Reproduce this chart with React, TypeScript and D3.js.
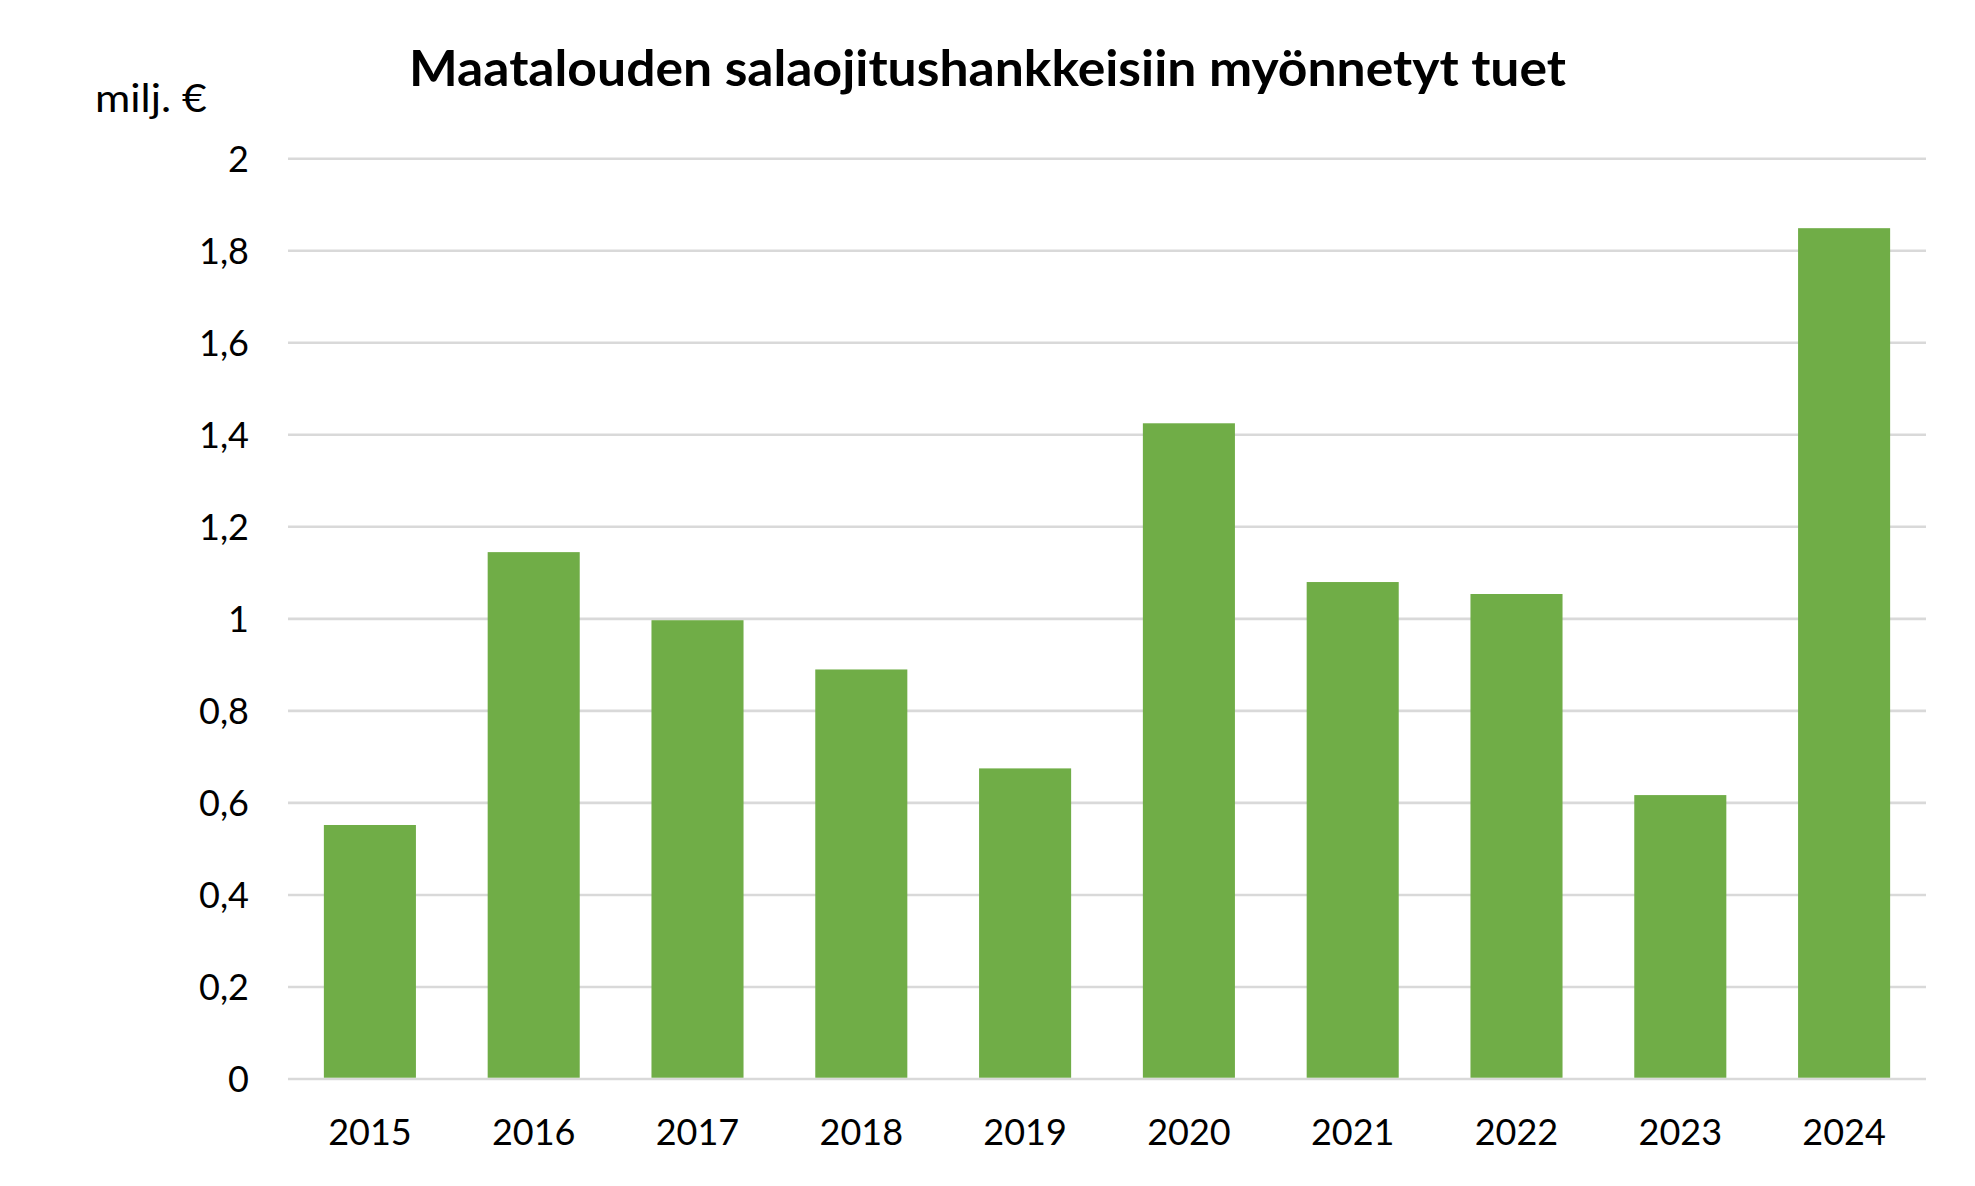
import React from "react";
import * as d3 from "d3";

const years = ["2015", "2016", "2017", "2018", "2019", "2020", "2021", "2022", "2023", "2024"];
const values = [0.552, 1.145, 0.997, 0.89, 0.675, 1.425, 1.08, 1.054, 0.617, 1.849];
const yTicks = [0, 0.2, 0.4, 0.6, 0.8, 1, 1.2, 1.4, 1.6, 1.8, 2];
const title = "Maatalouden salaojitushankkeisiin myönnetyt tuet";
const unitLabel = "milj. €";

const W = 1975;
const H = 1186;
const left = 288;
const right = 1926;
const top = 158.7;
const bottom = 1079;

export default function App() {
  const x = d3.scaleBand<string>().domain(years).range([left, right]).paddingInner(0.438).paddingOuter(0.219);
  const y = d3.scaleLinear().domain([0, 2]).range([bottom, top]);
  const fmt = (v: number) => d3.format("~g")(+v.toFixed(1)).replace(".", ",");
  const font = "Lato, 'Open Sans', sans-serif";
  return (
    <svg width={W} height={H} style={{ position: "absolute", left: 0, top: 0, background: "#fff" }} fontFamily={font}>
      <rect x={0} y={0} width={W} height={H} fill="#fff" />
      <text x={409} y={86} fontSize={50} fontWeight={700} fill="#000" textLength={1157} lengthAdjust="spacingAndGlyphs">{title}</text>
      <text x={95} y={112} fontSize={39} fill="#000" textLength={112} lengthAdjust="spacingAndGlyphs">{unitLabel}</text>
      {yTicks.map((t) => (
        <g key={t}>
          <line x1={left} x2={right} y1={y(t)} y2={y(t)} stroke="#d9d9d9" strokeWidth={2.6} />
          <text x={249} y={y(t) + 13} textAnchor="end" fontSize={36} fill="#000">{fmt(t)}</text>
        </g>
      ))}
      {years.map((yr, i) => (
        <rect key={yr} x={x(yr)} y={y(values[i])} width={x.bandwidth()} height={y(0) - y(values[i]) - 1.3} fill="#70AD47" />
      ))}
      {years.map((yr) => (
        <text key={yr} x={(x(yr) as number) + x.bandwidth() / 2} y={1145} textAnchor="middle" fontSize={36} fill="#000">{yr}</text>
      ))}
    </svg>
  );
}
